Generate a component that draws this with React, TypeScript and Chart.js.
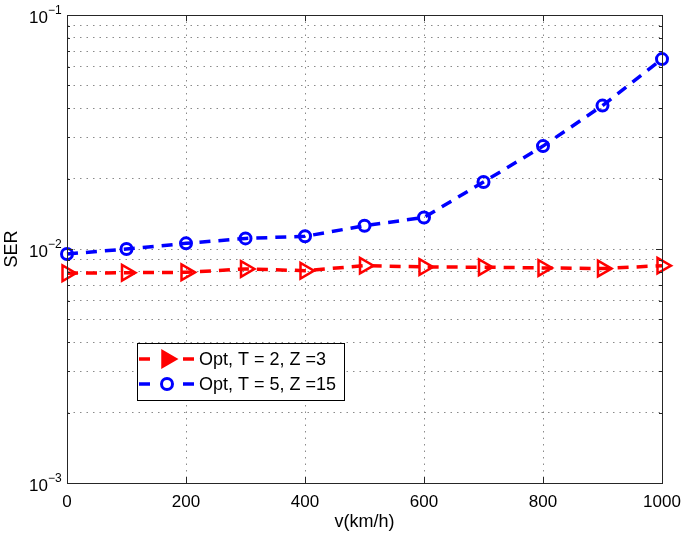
import React, { useEffect, useRef } from 'react';
import { Chart, registerables } from 'chart.js';

Chart.register(...registerables);

const speeds = [0, 100, 200, 300, 400, 500, 600, 700, 800, 900, 1000];
const serT2Z3 = [0.00788, 0.00792, 0.00795, 0.00822, 0.00808, 0.00849, 0.00838, 0.00836, 0.00830, 0.00825, 0.00849];
const serT5Z15 = [0.00952, 0.0100, 0.01057, 0.0111, 0.01133, 0.01257, 0.01364, 0.01934, 0.02752, 0.04101, 0.0648];
const seriesLabels = ['Opt, T = 2, Z =3', 'Opt, T = 5, Z =15'];
const xTickValues = [0, 200, 400, 600, 800, 1000];
const yDecades = [0.001, 0.01, 0.1];
const yDecadeExponents = ['\u22123', '\u22122', '\u22121'];
const yDecadeBase = '10';
const xTitle = 'v(km/h)';
const yTitle = 'SER';

const FONT = '"Liberation Sans", Arial, Helvetica, sans-serif';

function buildYTicks(): number[] {
  const out: number[] = [];
  for (let i = 0; i < yDecades.length - 1; i++) {
    for (let m = 1; m <= 9; m++) out.push(parseFloat((m * yDecades[i]).toPrecision(6)));
  }
  out.push(yDecades[yDecades.length - 1]);
  return out;
}

const framePlugin = {
  id: 'matlabFrame',
  afterDraw(chart: any) {
    const { ctx, chartArea } = chart;
    const { left, right, top, bottom } = chartArea;
    const xs = chart.scales.x;
    const ys = chart.scales.y;
    ctx.save();
    ctx.strokeStyle = '#262626';
    ctx.lineWidth = 1;
    ctx.setLineDash([]);
    ctx.strokeRect(Math.round(left) + 0.5, Math.round(top) + 0.5, Math.round(right - left), Math.round(bottom - top));
    ctx.beginPath();
    xTickValues.forEach((v) => {
      const px = Math.round(xs.getPixelForValue(v)) + 0.5;
      ctx.moveTo(px, bottom);
      ctx.lineTo(px, bottom - 6);
      ctx.moveTo(px, top);
      ctx.lineTo(px, top + 6);
    });
    buildYTicks().forEach((v) => {
      const py = Math.round(ys.getPixelForValue(v)) + 0.5;
      const major = yDecades.some((d) => Math.abs(d - v) < 1e-12);
      const len = major ? 6 : 3;
      ctx.moveTo(left, py);
      ctx.lineTo(left + len, py);
      ctx.moveTo(right, py);
      ctx.lineTo(right - len, py);
    });
    ctx.stroke();

    // y decade labels with superscript exponents
    ctx.fillStyle = '#000000';
    yDecades.forEach((d, i) => {
      const py = ys.getPixelForValue(d);
      ctx.font = '17px ' + FONT;
      ctx.textAlign = 'right';
      ctx.textBaseline = 'middle';
      ctx.fillText(yDecadeBase, left - 19, py + 3);
      ctx.font = '12px ' + FONT;
      ctx.textAlign = 'left';
      ctx.textBaseline = 'alphabetic';
      ctx.fillText(yDecadeExponents[i], left - 19, py - 1);
    });

    // legend
    const lx = 137;
    const ly = 343;
    const lw = 207;
    const lh = 57;
    ctx.fillStyle = '#ffffff';
    ctx.fillRect(lx, ly, lw, lh);
    ctx.strokeStyle = '#000000';
    ctx.lineWidth = 1;
    ctx.strokeRect(lx + 0.5, ly + 0.5, lw, lh);
    chart.data.datasets.forEach((ds: any, i: number) => {
      const cy = ly + 16 + i * 25;
      const x0 = lx + 2;
      const x1 = lx + 57;
      const mx = lx + 30;
      ctx.strokeStyle = ds.borderColor;
      ctx.lineWidth = 3.5;
      ctx.beginPath();
      ctx.moveTo(x0, cy);
      ctx.lineTo(x0 + 11, cy);
      ctx.moveTo(x1 - 11, cy);
      ctx.lineTo(x1, cy);
      ctx.stroke();
      ctx.lineWidth = 3;
      ctx.beginPath();
      if (ds.pointStyle === 'triangle') {
        const r = 8.5;
        ctx.moveTo(mx + r, cy);
        ctx.lineTo(mx - r * 0.5, cy - r * 0.866);
        ctx.lineTo(mx - r * 0.5, cy + r * 0.866);
        ctx.closePath();
        ctx.fillStyle = ds.borderColor;
        ctx.fill();
      } else {
        ctx.arc(mx, cy, 5.5, 0, Math.PI * 2);
      }
      ctx.stroke();
      ctx.fillStyle = '#000000';
      ctx.font = '18px ' + FONT;
      ctx.textBaseline = 'middle';
      ctx.textAlign = 'left';
      ctx.fillText(ds.label, lx + 62, cy + 1);
    });
    ctx.restore();
  },
};

export default function App() {
  const ref = useRef<HTMLCanvasElement | null>(null);
  useEffect(() => {
    document.body.style.margin = '0';
    if (!ref.current) return;
    const chart = new Chart(ref.current, {
      type: 'line',
      data: {
        datasets: [
          {
            label: seriesLabels[0],
            data: speeds.map((s, i) => ({ x: s, y: serT2Z3[i] })),
            borderColor: '#ff0000',
            backgroundColor: 'rgba(0,0,0,0)',
            borderWidth: 3.5,
            borderDash: [11, 8],
            pointStyle: 'triangle',
            rotation: 90,
            pointRadius: 9,
            pointBorderWidth: 2.5,
            pointBorderColor: '#ff0000',
            pointBackgroundColor: 'rgba(0,0,0,0)',
            tension: 0,
            clip: false,
          } as any,
          {
            label: seriesLabels[1],
            data: speeds.map((s, i) => ({ x: s, y: serT5Z15[i] })),
            borderColor: '#0000ff',
            backgroundColor: 'rgba(0,0,0,0)',
            borderWidth: 3.5,
            borderDash: [11, 8],
            pointStyle: 'circle',
            pointRadius: 5.5,
            pointBorderWidth: 3,
            pointBorderColor: '#0000ff',
            pointBackgroundColor: 'rgba(0,0,0,0)',
            tension: 0,
            clip: false,
          } as any,
        ],
      },
      options: {
        responsive: false,
        animation: false,
        layout: { padding: { left: 0, right: 23, top: 15, bottom: 0 } },
        plugins: { legend: { display: false }, tooltip: { enabled: false } },
        scales: {
          x: {
            type: 'linear',
            min: 0,
            max: 1000,
            afterBuildTicks: (scale: any) => {
              scale.ticks = xTickValues.map((v) => ({ value: v }));
            },
            afterFit: (scale: any) => {
              scale.height = 53;
              scale.paddingLeft = 0;
              scale.paddingRight = 0;
            },
            border: { display: false, dash: [1.5, 5] },
            grid: {
              color: '#8a8a8a',
              lineWidth: 1,
              drawTicks: false,
            },
            ticks: {
              padding: 9,
              color: '#000',
              font: { size: 17, family: FONT },
              maxRotation: 0,
              autoSkip: false,
              callback: (v: any) => String(v),
            },
            title: {
              display: true,
              text: xTitle,
              color: '#000',
              font: { size: 18, family: FONT },
              padding: { top: 0, bottom: 3 },
            },
          },
          y: {
            type: 'logarithmic',
            min: 0.001,
            max: 0.1,
            afterBuildTicks: (scale: any) => {
              scale.ticks = buildYTicks().map((v) => ({ value: v }));
            },
            afterFit: (scale: any) => {
              scale.width = 67;
              scale.paddingTop = 0;
              scale.paddingBottom = 0;
            },
            border: { display: false, dash: [1.5, 5] },
            grid: {
              color: '#8a8a8a',
              lineWidth: 1,
              drawTicks: false,
            },
            ticks: {
              display: false,
              autoSkip: false,
            },
            title: {
              display: true,
              text: yTitle,
              color: '#000',
              font: { size: 18, family: FONT },
              padding: { top: 1, bottom: 0 },
            },
          },
        },
      },
      plugins: [framePlugin],
    } as any);
    return () => chart.destroy();
  }, []);
  return <canvas ref={ref} width={685} height={536} style={{ display: 'block' }} />;
}
